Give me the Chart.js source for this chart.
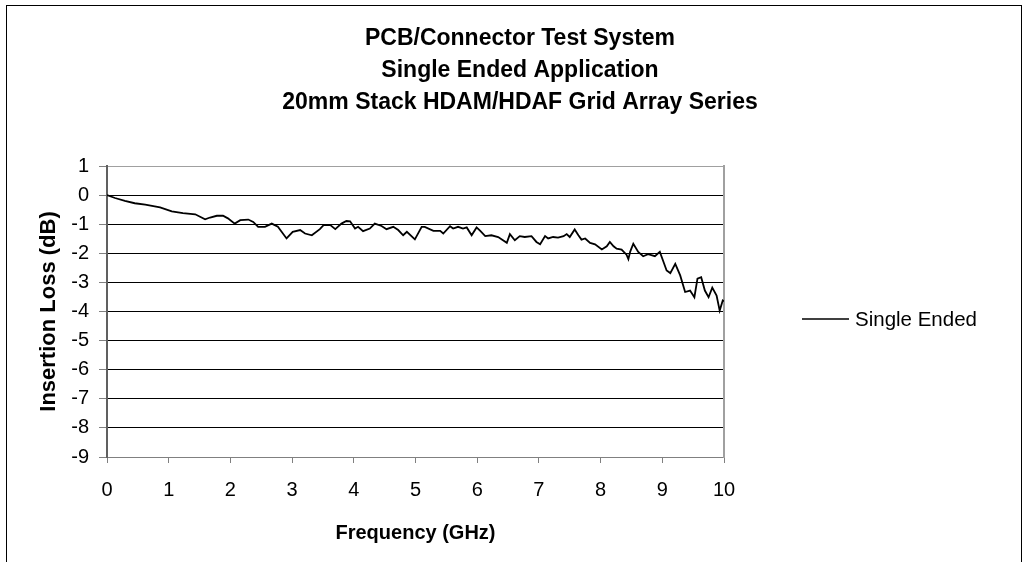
<!DOCTYPE html>
<html>
<head>
<meta charset="utf-8">
<script src="https://cdn.jsdelivr.net/npm/chart.js@4/dist/chart.umd.min.js"></script>
<style>
  html, body { margin: 0; padding: 0; background: #fff; }
  #wrap { position: relative; width: 1032px; height: 562px; overflow: hidden; }
  #frame { position: absolute; left: 6px; top: 5px; width: 1016px; height: 600px;
           border: 1px solid #000; box-sizing: border-box; pointer-events: none; }
</style>
</head>
<body>
<div id="wrap">
  <canvas id="chart" width="1032" height="562"></canvas>
  <div id="frame"></div>
</div>
<script>
const titleLines = ['PCB/Connector Test System', 'Single Ended Application', '20mm Stack HDAM/HDAF Grid Array Series']
const seriesName = 'Single Ended'
const xTitle = 'Frequency (GHz)'
const yTitle = 'Insertion Loss (dB)'

// frequency (GHz) and insertion loss (dB)
const freqGHz = [
    0.00, 0.13, 0.29, 0.45, 0.62, 0.86, 1.05, 1.23, 1.43, 1.59, 1.67, 1.78, 1.88, 1.96,
    2.07, 2.16, 2.29, 2.37, 2.45, 2.56, 2.67, 2.77, 2.83, 2.91, 3.01, 3.13, 3.21, 3.32,
    3.45, 3.51, 3.62, 3.70, 3.80, 3.88, 3.94, 4.02, 4.07, 4.15, 4.26, 4.34, 4.45, 4.53,
    4.64, 4.72, 4.80, 4.86, 4.99, 5.10, 5.15, 5.29, 5.40, 5.45, 5.56, 5.61, 5.69, 5.77,
    5.83, 5.91, 5.99, 6.05, 6.13, 6.23, 6.34, 6.48, 6.53, 6.61, 6.69, 6.77, 6.88, 6.96,
    7.02, 7.10, 7.15, 7.23, 7.31, 7.40, 7.45, 7.50, 7.58, 7.64, 7.69, 7.75, 7.83, 7.91,
    8.02, 8.10, 8.15, 8.21, 8.26, 8.34, 8.42, 8.45, 8.48, 8.53, 8.61, 8.69, 8.77, 8.88,
    8.96, 9.02, 9.07, 9.13, 9.21, 9.29, 9.37, 9.45, 9.52, 9.57, 9.63, 9.69, 9.75, 9.81,
    9.88, 9.93, 9.98, 10.00
]
const lossDb = [
    0.00, -0.10, -0.20, -0.28, -0.33, -0.42, -0.56, -0.62, -0.66, -0.83, -0.77, -0.71, -0.71, -0.80,
    -0.98, -0.86, -0.84, -0.92, -1.09, -1.09, -0.98, -1.09, -1.26, -1.49, -1.26, -1.20, -1.32, -1.38,
    -1.17, -1.03, -1.03, -1.17, -0.98, -0.89, -0.90, -1.15, -1.09, -1.24, -1.15, -0.98, -1.06, -1.17,
    -1.09, -1.20, -1.38, -1.26, -1.52, -1.09, -1.09, -1.23, -1.23, -1.32, -1.07, -1.15, -1.09, -1.15,
    -1.11, -1.38, -1.11, -1.23, -1.41, -1.38, -1.44, -1.64, -1.34, -1.55, -1.41, -1.44, -1.41, -1.61,
    -1.69, -1.41, -1.49, -1.44, -1.46, -1.41, -1.34, -1.44, -1.18, -1.38, -1.53, -1.49, -1.64, -1.69,
    -1.87, -1.76, -1.61, -1.76, -1.84, -1.87, -2.05, -2.20, -1.94, -1.67, -1.95, -2.10, -2.03, -2.10,
    -1.95, -2.30, -2.59, -2.68, -2.36, -2.76, -3.33, -3.28, -3.51, -2.87, -2.82, -3.28, -3.51, -3.18,
    -3.45, -3.97, -3.62, -3.65
]
const yMin = -9
const yMax = 1
const xMin = 0
const xMax = 10

const FONT = "'Liberation Sans', Arial, sans-serif"
Chart.defaults.color = '#000'
Chart.defaults.font.family = FONT

// legend drawn beside the plot, like the original
const sideLegend = {
    id: 'sideLegend',
    afterDraw(chart) {
        const ctx = chart.ctx
        const ds = chart.data.datasets[0]
        const y = 319
        ctx.save()
        ctx.strokeStyle = ds.borderColor
        ctx.lineWidth = 1.5
        ctx.beginPath()
        ctx.moveTo(802, y)
        ctx.lineTo(849, y)
        ctx.stroke()
        ctx.fillStyle = '#000'
        ctx.font = `20.5px ${FONT}`
        ctx.textBaseline = 'middle'
        ctx.fillText(ds.label, 855, y + 1)
        ctx.restore()
    }
}

const points = freqGHz.map((f, i) => ({ x: f, y: lossDb[i] }))

new Chart(document.getElementById('chart').getContext('2d'), {
    type: 'scatter',
    data: {
        datasets: [{
            label: seriesName,
            data: points,
            showLine: true,
            borderColor: '#000',
            borderWidth: 1.8,
            pointRadius: 0,
            tension: 0,
            fill: false
        }]
    },
    plugins: [sideLegend],
    options: {
        responsive: false,
        animation: false,
        layout: { padding: { left: 8, top: 0, right: 0, bottom: 0 } },
        plugins: {
            legend: { display: false },
            tooltip: { enabled: false },
            title: {
                display: true,
                text: titleLines,
                color: '#000',
                font: { family: FONT, size: 23, weight: 'bold', lineHeight: 32 / 23 },
                padding: { top: 23, bottom: 47 }
            }
        },
        scales: {
            x: {
                type: 'linear',
                position: 'bottom',
                min: xMin,
                max: xMax,
                ticks: { stepSize: 1, padding: 15, font: { size: 20 }, color: '#000', maxRotation: 0 },
                grid: { drawOnChartArea: false, tickLength: 6, color: '#808080' },
                border: { color: '#808080', width: 1 },
                title: { display: true, text: xTitle, font: { size: 20, weight: 'bold' }, color: '#000', padding: { top: 0, bottom: 17 } },
                afterFit(s) { s.height = 105 }
            },
            y: {
                type: 'linear',
                position: 'left',
                min: yMin,
                max: yMax,
                ticks: { stepSize: 1, padding: 10, font: { size: 20 }, color: '#000' },
                grid: {
                    color: c => (c.tick && (c.tick.value === yMax || c.tick.value === yMin)) ? '#a0a0a0' : '#000',
                    tickColor: '#808080',
                    tickLength: 8,
                    lineWidth: 1
                },
                border: { color: '#606060', width: 2 },
                title: { display: true, text: yTitle, font: { size: 22, weight: 'bold' }, color: '#000', padding: { top: 28, bottom: 0 } },
                afterFit(s) { s.width = 99 }
            },
            yRight: {
                type: 'linear',
                position: 'right',
                min: yMin,
                max: yMax,
                ticks: { display: false },
                grid: { drawOnChartArea: false, drawTicks: false },
                border: { color: '#a0a0a0', width: 2 },
                afterFit(s) { s.width = 308 }
            }
        }
    }
})
</script>
</body>
</html>
